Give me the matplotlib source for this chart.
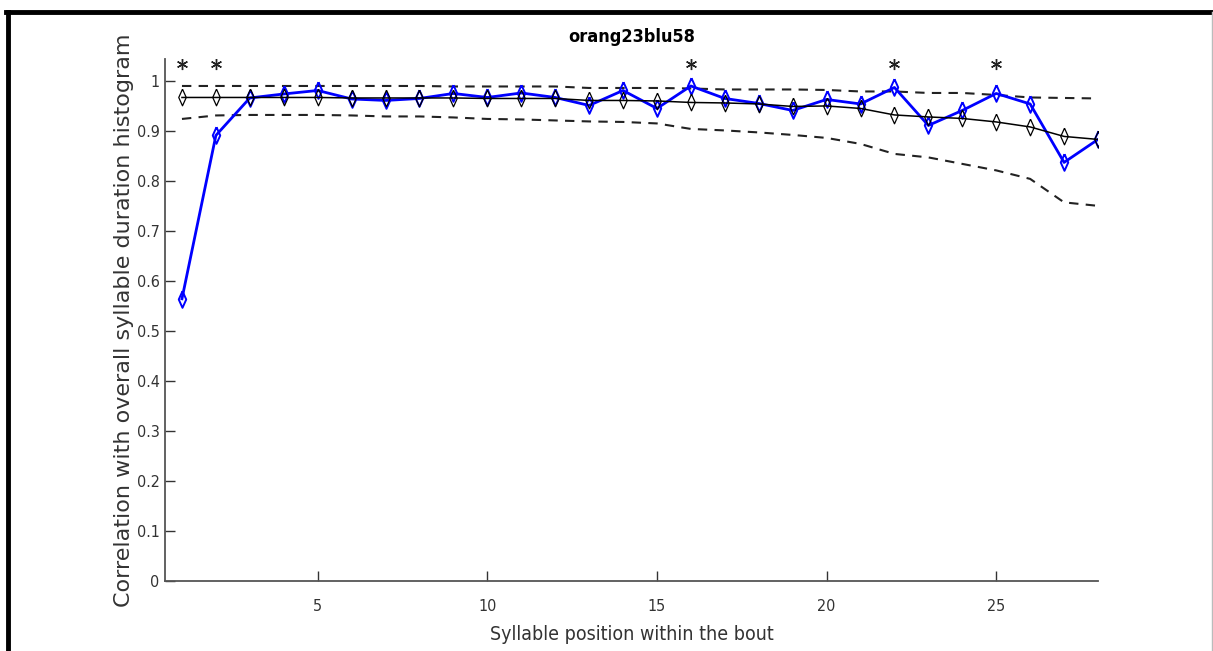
import numpy as np
import matplotlib
matplotlib.use('Agg')
import matplotlib.pyplot as plt
from matplotlib.lines import Line2D

# ----- data -----
positions = list(range(1, 29))
observed = [0.565, 0.892, 0.967, 0.975, 0.982, 0.965, 0.962, 0.966, 0.976, 0.968,
            0.977, 0.968, 0.952, 0.982, 0.946, 0.991, 0.966, 0.956, 0.942, 0.964,
            0.955, 0.988, 0.912, 0.942, 0.976, 0.955, 0.838, 0.884]
shuffled_mean = [0.968, 0.968, 0.968, 0.968, 0.968, 0.967, 0.967, 0.967, 0.967, 0.966,
                 0.966, 0.966, 0.962, 0.962, 0.961, 0.958, 0.957, 0.955, 0.950, 0.951,
                 0.946, 0.933, 0.929, 0.926, 0.919, 0.909, 0.890, 0.884]
upper_ci = [0.991, 0.991, 0.991, 0.991, 0.991, 0.991, 0.991, 0.991, 0.990, 0.990,
            0.990, 0.990, 0.987, 0.987, 0.987, 0.986, 0.984, 0.984, 0.984, 0.983,
            0.980, 0.980, 0.977, 0.977, 0.973, 0.968, 0.967, 0.966]
lower_ci = [0.925, 0.932, 0.933, 0.933, 0.933, 0.932, 0.930, 0.930, 0.928, 0.925,
            0.924, 0.922, 0.920, 0.919, 0.916, 0.905, 0.902, 0.898, 0.893, 0.887,
            0.875, 0.855, 0.848, 0.835, 0.822, 0.805, 0.758, 0.751]
significant = [1, 2, 16, 22, 25]
star_level = 1.035

title = 'orang23blu58'
xlabel = 'Syllable position within the bout'
ylabel = 'Correlation with overall syllable duration histogram'
xticks = [5, 10, 15, 20, 25]
yticks = [0, 0.1, 0.2, 0.3, 0.4, 0.5, 0.6, 0.7, 0.8, 0.9, 1]
ytick_labels = ['0', '0.1', '0.2', '0.3', '0.4', '0.5', '0.6', '0.7', '0.8', '0.9', '1']

# condensed look for the tick labels / title, like the squeezed original
narrow = dict(family='DejaVu Sans', stretch='condensed')
diamond = [(0, 1), (0.45, 0), (0, -1), (-0.45, 0), (0, 1)]

fig = plt.figure(figsize=(12.13, 6.51), dpi=100)
W, H = 1213, 651
ax = fig.add_axes([165 / W, 1 - 581 / H, (1098 - 165) / W, (581 - 59) / H])

ax.plot(positions, upper_ci, '--', color='#222222', lw=1.5, dashes=(4.5, 3.5))
ax.plot(positions, lower_ci, '--', color='#222222', lw=1.5, dashes=(4.5, 3.5))
ax.plot(positions, observed, '-', color='#0000ff', lw=2.0, marker=diamond,
        markersize=12, markerfacecolor='none', markeredgecolor='#0000ff', mew=1.4)
ax.plot(positions, shuffled_mean, '-', color='black', lw=1.1, marker=diamond,
        markersize=12, markerfacecolor='none', markeredgecolor='black', mew=0.9)
ax.plot(significant, [star_level] * len(significant), linestyle='none',
        marker=(6, 2, 0), markersize=8, color='#222222', mew=1.0)

ax.set_xlim(0.5, 28)
ax.set_ylim(0, 1.045)
ax.set_xticks(xticks)
ax.set_xticklabels([str(t) for t in xticks], fontsize=11.5, color='#333333', **narrow)
ax.set_yticks(yticks)
ax.set_yticklabels(ytick_labels, fontsize=11.5, color='#333333', **narrow)
ax.tick_params(direction='in', length=7, width=1, colors='#333333', pad=4)
ax.tick_params(axis='x', pad=13)

for side in ['top', 'right']:
    ax.spines[side].set_visible(False)
for side in ['left', 'bottom']:
    ax.spines[side].set_color('#555555')
    ax.spines[side].set_linewidth(1.3)

ax.set_title(title, fontsize=13, fontweight='bold', pad=12, **narrow)
ax.set_xlabel(xlabel, fontsize=14, color='#333333', labelpad=8, **narrow)
ax.set_ylabel(ylabel, fontsize=16, color='#333333')
ax.yaxis.set_label_coords((134 - 165) / (1098 - 165), 0.5)

# outer frame (top and left black, right thin gray)
fig.add_artist(Line2D([8 / W, 8 / W], [-0.1, 1 - 11.5 / H], color='black', lw=3.5,
                      transform=fig.transFigure))
fig.add_artist(Line2D([6 / W, 1.01], [1 - 11.5 / H, 1 - 11.5 / H], color='black', lw=3.5,
                      transform=fig.transFigure))
fig.add_artist(Line2D([1211.5 / W, 1211.5 / W], [-0.1, 1 - 11.5 / H], color='#bbbbbb', lw=1,
                      transform=fig.transFigure))

fig.savefig('out.png', dpi=100)
